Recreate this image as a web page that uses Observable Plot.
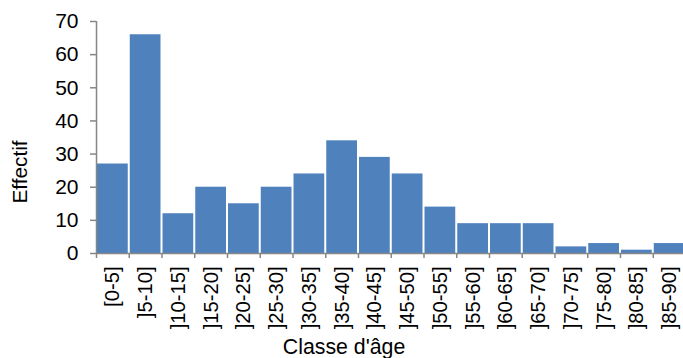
<!DOCTYPE html>
<html>
<head>
<meta charset="utf-8">
<script src="https://cdn.jsdelivr.net/npm/d3@7"></script>
<script src="https://cdn.jsdelivr.net/npm/@observablehq/plot@0.6"></script>
<style>
  html, body { margin: 0; padding: 0; background: #fff; }
  #chart svg { display: block; }
</style>
</head>
<body>
<div id="chart"></div>
<script>
// Age classes and their counts
const classes = ["[0-5]", "]5-10]", "]10-15]", "]15-20]", "]20-25]", "]25-30]", "]30-35]", "]35-40]", "]40-45]",
                 "]45-50]", "]50-55]", "]55-60]", "]60-65]", "]65-70]", "]70-75]", "]75-80]", "]80-85]", "]85-90]"];
const effectifs = [27, 66, 12, 20, 15, 20, 24, 34, 29, 24, 14, 9, 9, 9, 2, 3, 1, 3];
const yTicks = [0, 10, 20, 30, 40, 50, 60, 70];

const rows = classes.map((c, i) => ({classe: c, i, n: effectifs[i]}));
const bounds = d3.range(classes.length + 1);

const axisColor = "#868686";
const font = "Liberation Sans, Arial, sans-serif";

const chart = Plot.plot({
  width: 683,
  height: 358,
  marginLeft: 96,
  marginRight: 0,
  marginTop: 21,
  marginBottom: 105,
  style: {fontFamily: font, color: "#000", background: "#fff"},
  x: {type: "linear", domain: [0, classes.length], range: [96, 685.5], axis: null},
  y: {type: "linear", domain: [0, 70], range: [253, 21], axis: null},
  marks: [
    // bars, one per age class
    Plot.rectY(rows, {x1: "i", x2: d => d.i + 1, y: "n", fill: "#4F81BD", insetLeft: 1, insetRight: 1}),
    // y axis: line, ticks, labels
    Plot.ruleX([0], {y1: 0, y2: 70, stroke: axisColor, strokeWidth: 1.5}),
    Plot.axisY({ticks: yTicks, tickSize: 6, tickPadding: 12, stroke: axisColor, strokeWidth: 1.5, fontSize: 21, fill: "#000", label: null}),
    // x axis: line and boundary ticks
    Plot.ruleY([0], {stroke: axisColor, strokeWidth: 1.5}),
    Plot.axisX({ticks: bounds, tickSize: 5, tickFormat: () => "", stroke: axisColor, strokeWidth: 1.5, label: null}),
    // class labels, rotated
    Plot.text(rows, {x: d => d.i + 0.5, y: () => 0, text: "classe", rotate: -90, textAnchor: "end",
                     dy: 13, fontSize: 20.2, fill: "#000"}),
    // axis titles
    Plot.text(["Classe d'âge"], {x: () => 7.56, y: () => 0, dy: 94, text: d => d, fontSize: 21.3, fill: "#000"}),
    Plot.text(["Effectif"], {x: () => 0, y: () => 0, dx: -76, dy: -81.5, rotate: -90, text: d => d, fontSize: 20.8, fill: "#000"})
  ]
});
document.getElementById("chart").append(chart);
</script>
</body>
</html>
